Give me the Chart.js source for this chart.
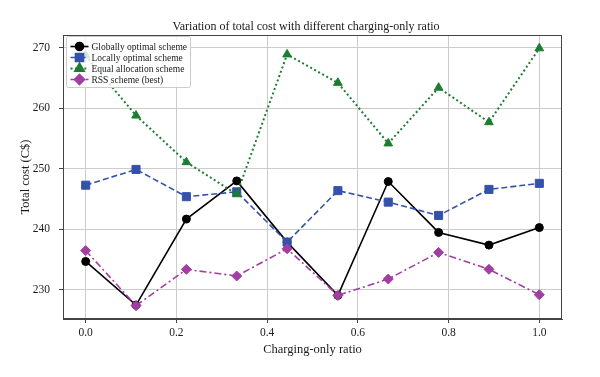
<!DOCTYPE html>
<html>
<head>
<meta charset="utf-8">
<script src="https://cdn.jsdelivr.net/npm/chart.js@4.4.1/dist/chart.umd.min.js"></script>
<style>
  html, body { margin: 0; padding: 0; background: #fff; }
  #chart-container { position: relative; width: 600px; height: 377px; }
</style>
</head>
<body>
<div id="chart-container"><canvas id="cost-chart"></canvas></div>
<script>
// charging-only ratio (x) and total cost per scheme (y)
const ratios = [0.000, 0.111, 0.222, 0.333, 0.444, 0.556, 0.667, 0.778, 0.889, 1.000];
const globallyOptimal = [234.7, 227.5, 241.7, 248.0, 237.9, 229.1, 247.9, 239.5, 237.4, 240.3];
const locallyOptimal = [247.3, 249.9, 245.4, 246.2, 237.9, 246.4, 244.5, 242.3, 246.6, 247.6];
const equalAllocation = [268.7, 258.8, 251.1, 245.8, 268.9, 264.2, 254.2, 263.4, 257.7, 269.9];
const rssBest = [236.5, 227.4, 233.4, 232.3, 236.8, 229.1, 231.8, 236.2, 233.4, 229.2];

const serif = '"Liberation Serif", "Times New Roman", serif';
const textColor = '#1a1a1a';

function toPoints(values) {
    return values.map((v, i) => ({ x: ratios[i], y: v }));
}

function makeSeries(label, values, color, style, radius, dash, width, order) {
    return {
        label: label,
        data: toPoints(values),
        borderColor: color,
        backgroundColor: color,
        pointBackgroundColor: color,
        pointBorderColor: color,
        pointBorderWidth: 1,
        pointStyle: style,
        pointRadius: radius,
        borderWidth: width,
        borderDash: dash,
        tension: 0,
        order: order
    };
}

// frame round the plot area, title and the legend box drawn inside the plot
const extrasPlugin = {
    id: 'extras',
    afterDatasetsDraw(chart) {
        const { ctx, chartArea: a } = chart;
        ctx.save();
        ctx.strokeStyle = '#444';
        ctx.lineWidth = 1;
        ctx.strokeRect(Math.round(a.left) + 0.5, Math.round(a.top) + 0.5,
            Math.round(a.width) - 1, Math.round(a.height) - 1);
        ctx.restore();
    },
    afterDraw(chart) {
        const { ctx, chartArea: a } = chart;
        ctx.save();
        ctx.fillStyle = textColor;
        ctx.font = '12px ' + serif;
        ctx.textAlign = 'center';
        ctx.textBaseline = 'alphabetic';
        ctx.fillText('Variation of total cost with different charging-only ratio', 306, 29.5);

        // legend
        const bx = a.left + 3.5, by = a.top + 1.5, bw = 124, bh = 51;
        ctx.beginPath();
        ctx.roundRect(bx, by, bw, bh, 2);
        ctx.fillStyle = 'rgba(255,255,255,0.8)';
        ctx.fill();
        ctx.strokeStyle = '#cccccc';
        ctx.lineWidth = 1;
        ctx.stroke();

        chart.data.datasets.forEach((ds, i) => {
            const y = by + 10 + i * 11;
            ctx.save();
            ctx.strokeStyle = ds.borderColor;
            ctx.lineWidth = ds.borderWidth;
            ctx.setLineDash(ds.borderDash || []);
            ctx.beginPath();
            ctx.moveTo(bx + 4, y);
            ctx.lineTo(bx + 22, y);
            ctx.stroke();
            ctx.setLineDash([]);
            ctx.fillStyle = ds.pointBackgroundColor;
            ctx.strokeStyle = ds.pointBorderColor;
            Chart.helpers.drawPoint(ctx, {
                pointStyle: ds.pointStyle, radius: ds.pointRadius, rotation: 0, borderWidth: 1
            }, bx + 13, y);
            ctx.restore();
            ctx.fillStyle = textColor;
            ctx.font = '9.5px ' + serif;
            ctx.textAlign = 'left';
            ctx.textBaseline = 'middle';
            ctx.fillText(ds.label, bx + 25, y + 0.5);
        });
        ctx.restore();
    }
};

const context = document.getElementById('cost-chart');
const chart = new Chart(context, {
    type: 'line',
    data: {
        datasets: [
            makeSeries('Globally optimal scheme', globallyOptimal, '#000000', 'circle', 4, [], 1.6, 4),
            makeSeries('Locally optimal scheme', locallyOptimal, '#3552ab', 'rect', 5.7, [6, 3], 1.6, 3),
            makeSeries('Equal allocation scheme', equalAllocation, '#1c7d32', 'triangle', 5, [2, 2.6], 2, 2),
            makeSeries('RSS scheme (best)', rssBest, '#a13ea1', 'rectRot', 5, [7, 3, 2, 3], 1.6, 1)
        ]
    },
    options: {
        responsive: true,
        maintainAspectRatio: false,
        devicePixelRatio: 1,
        animation: false,
        layout: { padding: { top: 35, right: 38, left: 0, bottom: 0 } },
        plugins: {
            legend: { display: false },
            tooltip: { enabled: false },
            title: { display: false }
        },
        scales: {
            x: {
                type: 'linear',
                min: -0.05,
                max: 1.05,
                afterFit(scale) { scale.height = 58; },
                border: { color: '#444', width: 1 },
                grid: { color: '#cccccc', tickColor: '#444', tickLength: 4, lineWidth: 1 },
                ticks: {
                    stepSize: 0.2,
                    includeBounds: false,
                    padding: 3,
                    maxRotation: 0,
                    color: textColor,
                    font: { family: serif, size: 11.5 },
                    callback: (v) => v.toFixed(1)
                },
                title: {
                    display: true,
                    text: 'Charging-only ratio',
                    color: textColor,
                    font: { family: serif, size: 12.5 },
                    padding: { top: 0, bottom: 20 }
                }
            },
            y: {
                min: 225.2,
                max: 272.1,
                afterFit(scale) { scale.width = 63; },
                border: { color: '#444', width: 1 },
                grid: { color: '#cccccc', tickColor: '#444', tickLength: 4, lineWidth: 1 },
                ticks: {
                    stepSize: 10,
                    includeBounds: false,
                    padding: 9,
                    color: textColor,
                    font: { family: serif, size: 11.5 }
                },
                title: {
                    display: true,
                    text: 'Total cost (C$)',
                    color: textColor,
                    font: { family: serif, size: 12.5 },
                    padding: { top: 18, bottom: 0 }
                }
            }
        }
    },
    plugins: [extrasPlugin]
});
</script>
</body>
</html>
